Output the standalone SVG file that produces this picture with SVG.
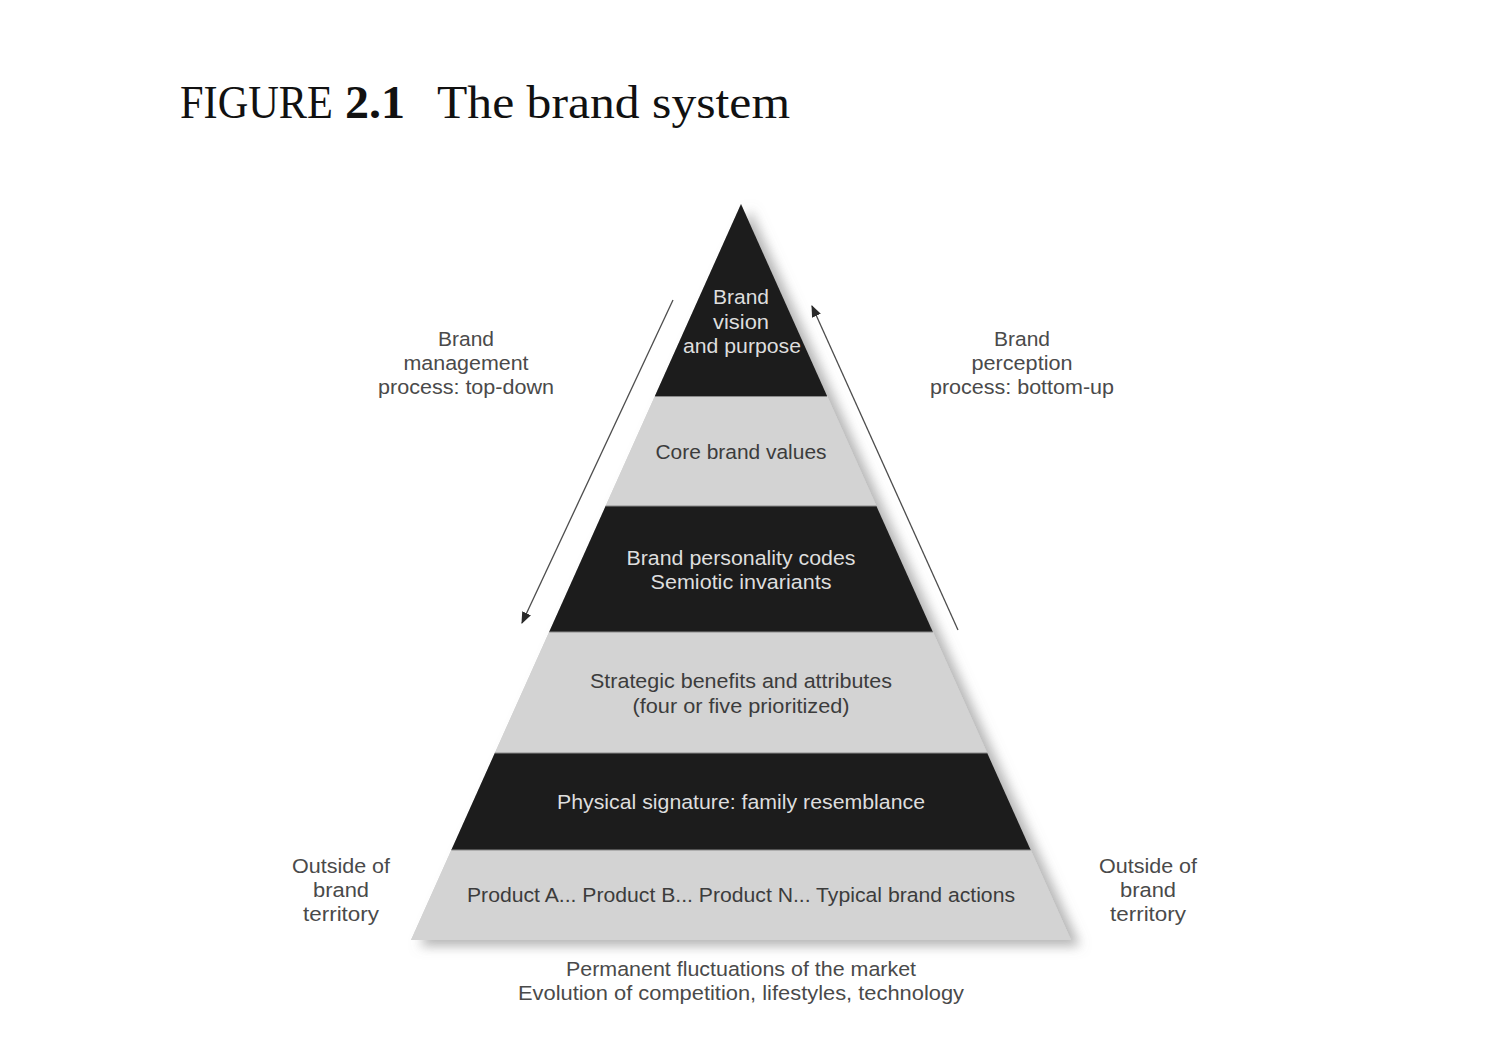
<svg xmlns="http://www.w3.org/2000/svg" width="1488" height="1057" viewBox="0 0 1488 1057">
<style>
.lbl{font-family:"Liberation Sans",Arial,sans-serif;font-size:20.5px;fill:#4a4a4a;text-anchor:middle}
.dk{fill:#1d1d1d}
.lt{fill:#d3d3d3}
.on-dk{font-family:"Liberation Sans",Arial,sans-serif;font-size:20.5px;fill:#dedede;text-anchor:middle}
.on-lt{font-family:"Liberation Sans",Arial,sans-serif;font-size:20.5px;fill:#3c3c3c;text-anchor:middle}
.sep{stroke:#8a8a8a;stroke-width:1.2}
.conn{stroke:#4d4d4d;stroke-width:1.3;fill:none}
.title{font-family:"Liberation Serif","Times New Roman",serif;font-size:46px;fill:#111}
</style>
<defs>
<filter id="shadow" x="-10%" y="-10%" width="125%" height="125%">
<feGaussianBlur in="SourceAlpha" stdDeviation="6" result="b"/>
<feOffset in="b" dx="9" dy="6" result="o"/>
<feFlood flood-color="#777" flood-opacity="0.55"/>
<feComposite in2="o" operator="in" result="s"/>
<feMerge><feMergeNode in="s"/><feMergeNode in="SourceGraphic"/></feMerge>
</filter>
<marker id="ah" viewBox="0 0 10 10" refX="9" refY="5" markerWidth="12" markerHeight="12" markerUnits="userSpaceOnUse" orient="auto">
<path d="M0,1 L10,5 L0,9 z" fill="#2a2a2a"/>
</marker>
</defs>
<rect width="1488" height="1057" fill="#fff"/>

<g id="title">
<text class="title" x="180" y="118" textLength="153" lengthAdjust="spacingAndGlyphs">FIGURE</text>
<text class="title" x="345" y="118" font-weight="bold" textLength="60" lengthAdjust="spacingAndGlyphs">2.1</text>
<text class="title" x="437" y="118" textLength="353" lengthAdjust="spacingAndGlyphs">The brand system</text>
</g>

<g id="pyramid" filter="url(#shadow)">
<polygon class="lt" points="741,204 1071,940 411,940"/>
<g id="level-vision"><polygon class="dk" points="741,204 827.1,396 654.9,396"/></g>
<g id="level-values"><polygon class="lt" points="654.9,396 827.1,396 876.4,506 605.6,506"/></g>
<g id="level-personality"><polygon class="dk" points="605.6,506 876.4,506 932.9,632 549.1,632"/></g>
<g id="level-benefits"><polygon class="lt" points="549.1,632 932.9,632 987.2,753 494.8,753"/></g>
<g id="level-physical"><polygon class="dk" points="494.8,753 987.2,753 1030.7,850 451.3,850"/></g>
<g id="level-products"><polygon class="lt" points="451.3,850 1030.7,850 1071,940 411,940"/></g>
</g>
<g id="separators">
<line class="sep" x1="655" y1="396.5" x2="827" y2="396.5"/>
<line class="sep" x1="605.6" y1="506" x2="876.4" y2="506"/>
<line class="sep" x1="549.1" y1="632" x2="932.9" y2="632"/>
<line class="sep" x1="494.8" y1="753" x2="987.2" y2="753"/>
<line class="sep" x1="451.3" y1="850" x2="1030.7" y2="850"/>
</g>

<g id="pyramid-text">
<text class="on-dk" x="741" y="304" textLength="56" lengthAdjust="spacingAndGlyphs">Brand</text>
<text class="on-dk" x="741" y="329" textLength="56" lengthAdjust="spacingAndGlyphs">vision</text>
<text class="on-dk" x="742" y="353" textLength="118" lengthAdjust="spacingAndGlyphs">and purpose</text>
<text class="on-lt" x="741" y="459" textLength="171" lengthAdjust="spacingAndGlyphs">Core brand values</text>
<text class="on-dk" x="741" y="565" textLength="229" lengthAdjust="spacingAndGlyphs">Brand personality codes</text>
<text class="on-dk" x="741" y="589" textLength="181" lengthAdjust="spacingAndGlyphs">Semiotic invariants</text>
<text class="on-lt" x="741" y="688" textLength="302" lengthAdjust="spacingAndGlyphs">Strategic benefits and attributes</text>
<text class="on-lt" x="741" y="713" textLength="217" lengthAdjust="spacingAndGlyphs">(four or five prioritized)</text>
<text class="on-dk" x="741" y="809" textLength="368" lengthAdjust="spacingAndGlyphs">Physical signature: family resemblance</text>
<text class="on-lt" x="741" y="902" textLength="548" lengthAdjust="spacingAndGlyphs">Product A... Product B... Product N... Typical brand actions</text>
</g>

<g id="connectors">
<line class="conn" x1="673" y1="300" x2="522" y2="623" marker-end="url(#ah)"/>
<line class="conn" x1="958" y1="630" x2="812" y2="306" marker-end="url(#ah)"/>
</g>

<g id="label-management">
<text class="lbl" x="466" y="346" textLength="56" lengthAdjust="spacingAndGlyphs">Brand</text>
<text class="lbl" x="466" y="370" textLength="125" lengthAdjust="spacingAndGlyphs">management</text>
<text class="lbl" x="466" y="394" textLength="176" lengthAdjust="spacingAndGlyphs">process: top-down</text>
</g>
<g id="label-perception">
<text class="lbl" x="1022" y="346" textLength="56" lengthAdjust="spacingAndGlyphs">Brand</text>
<text class="lbl" x="1022" y="370" textLength="101" lengthAdjust="spacingAndGlyphs">perception</text>
<text class="lbl" x="1022" y="394" textLength="184" lengthAdjust="spacingAndGlyphs">process: bottom-up</text>
</g>
<g id="label-outside-left">
<text class="lbl" x="341" y="873" textLength="98" lengthAdjust="spacingAndGlyphs">Outside of</text>
<text class="lbl" x="341" y="897" textLength="56" lengthAdjust="spacingAndGlyphs">brand</text>
<text class="lbl" x="341" y="921" textLength="76" lengthAdjust="spacingAndGlyphs">territory</text>
</g>
<g id="label-outside-right">
<text class="lbl" x="1148" y="873" textLength="98" lengthAdjust="spacingAndGlyphs">Outside of</text>
<text class="lbl" x="1148" y="897" textLength="56" lengthAdjust="spacingAndGlyphs">brand</text>
<text class="lbl" x="1148" y="921" textLength="76" lengthAdjust="spacingAndGlyphs">territory</text>
</g>
<g id="label-market">
<text class="lbl" x="741" y="976" textLength="350" lengthAdjust="spacingAndGlyphs">Permanent fluctuations of the market</text>
<text class="lbl" x="741" y="1000" textLength="446" lengthAdjust="spacingAndGlyphs">Evolution of competition, lifestyles, technology</text>
</g>
</svg>
